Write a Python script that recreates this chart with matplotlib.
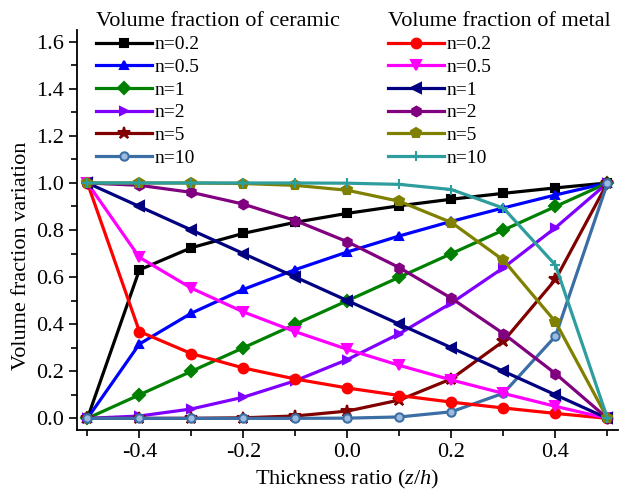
import numpy as np
import matplotlib
matplotlib.use("Agg")
import matplotlib.pyplot as plt
from matplotlib.ticker import MultipleLocator

plt.rcParams['font.family'] = ['Liberation Serif', 'DejaVu Serif']
plt.rcParams['mathtext.fontset'] = 'custom'
plt.rcParams['mathtext.it'] = 'Liberation Serif:italic'
plt.rcParams['mathtext.rm'] = 'Liberation Serif'

# thickness ratio z/h
z = [-0.5, -0.4, -0.3, -0.2, -0.1, 0.0, 0.1, 0.2, 0.3, 0.4, 0.5]
n_labels = ['n=0.2', 'n=0.5', 'n=1', 'n=2', 'n=5', 'n=10']

# volume fraction of ceramic
vc_02 = [0.0, 0.631, 0.725, 0.786, 0.833, 0.871, 0.903, 0.931, 0.956, 0.979, 1.0]
vc_05 = [0.0, 0.316, 0.447, 0.548, 0.632, 0.707, 0.775, 0.837, 0.894, 0.949, 1.0]
vc_1 = [0.0, 0.1, 0.2, 0.3, 0.4, 0.5, 0.6, 0.7, 0.8, 0.9, 1.0]
vc_2 = [0.0, 0.01, 0.04, 0.09, 0.16, 0.25, 0.36, 0.49, 0.64, 0.81, 1.0]
vc_5 = [0.0, 0.0, 0.0003, 0.0024, 0.0102, 0.031, 0.078, 0.168, 0.328, 0.590, 1.0]
vc_10 = [0.0, 0.0, 0.0, 0.0, 0.0001, 0.001, 0.006, 0.028, 0.107, 0.349, 1.0]

# volume fraction of metal
vm_02 = [1.0, 0.369, 0.275, 0.214, 0.167, 0.129, 0.097, 0.069, 0.044, 0.021, 0.0]
vm_05 = [1.0, 0.684, 0.553, 0.452, 0.368, 0.293, 0.225, 0.163, 0.106, 0.051, 0.0]
vm_1 = [1.0, 0.9, 0.8, 0.7, 0.6, 0.5, 0.4, 0.3, 0.2, 0.1, 0.0]
vm_2 = [1.0, 0.99, 0.96, 0.91, 0.84, 0.75, 0.64, 0.51, 0.36, 0.19, 0.0]
vm_5 = [1.0, 1.0, 0.9997, 0.9976, 0.9898, 0.969, 0.922, 0.832, 0.672, 0.410, 0.0]
vm_10 = [1.0, 1.0, 1.0, 1.0, 0.9999, 0.999, 0.994, 0.972, 0.893, 0.651, 0.0]

ceramic = [vc_02, vc_05, vc_1, vc_2, vc_5, vc_10]
metal = [vm_02, vm_05, vm_1, vm_2, vm_5, vm_10]

c_colors = ['#000000', '#0000FF', '#008000', '#8000FF', '#800000', '#3A6EA5']
c_markers = ['s', '^', 'D', '>', '*', 'o']
m_colors = ['#FF0000', '#FF00FF', '#000080', '#800080', '#808000', '#2E9D9D']
m_markers = ['o', 'v', '<', 'h', 'p', '+']

fig = plt.figure(figsize=(6.21, 4.99), dpi=100)
ax = fig.add_axes([0.124, 0.138, 0.871, 0.802])

c_lines = []
for y, col, mk, lab in zip(ceramic, c_colors, c_markers, n_labels):
    ms = 9 if mk == '*' else 6
    # circle markers of n=10 have a light centre
    mfc = '#9DBCDD' if mk == 'o' else col
    l, = ax.plot(z, y, color=col, marker=mk, lw=2.3, ms=ms, label=lab,
                 markeredgewidth=1.5, markerfacecolor=mfc)
    c_lines.append(l)

m_lines = []
for y, col, mk, lab in zip(metal, m_colors, m_markers, n_labels):
    l, = ax.plot(z, y, color=col, marker=mk, lw=2.3, ms=7, label=lab,
                 markeredgewidth=1.5)
    m_lines.append(l)

ax.set_xlim(-0.52, 0.52)
ax.set_ylim(-0.05, 1.65)
ax.xaxis.set_minor_locator(MultipleLocator(0.1))
ax.yaxis.set_minor_locator(MultipleLocator(0.1))
ax.set_xticks([-0.4, -0.2, 0.0, 0.2, 0.4])
ax.set_xticklabels(['-0.4', '-0.2', '0.0', '0.2', '0.4'])
ax.set_yticks([0.0, 0.2, 0.4, 0.6, 0.8, 1.0, 1.2, 1.4, 1.6])
ax.set_yticklabels(['0.0', '0.2', '0.4', '0.6', '0.8', '1.0', '1.2', '1.4', '1.6'])

ax.tick_params(which='both', direction='out', labelsize=16, width=1.2)
ax.tick_params(which='major', length=6)
ax.tick_params(which='minor', length=4)
ax.spines['top'].set_visible(False)
ax.spines['right'].set_visible(False)
ax.spines['left'].set_linewidth(1.3)
ax.spines['bottom'].set_linewidth(1.3)

ax.set_xlabel('Thickness ratio ($z$/$h$)', fontsize=16)
ax.set_ylabel('Volume fraction variation', fontsize=16)
ax.yaxis.set_label_coords(-0.085, 0.435)

leg_kw = dict(loc='upper left', frameon=False, fontsize=14, title_fontsize=16,
              handlelength=2.9, labelspacing=0.26, handletextpad=0.15,
              borderaxespad=0, alignment='left')
leg1 = ax.legend(handles=c_lines, title='Volume fraction of ceramic',
                 bbox_to_anchor=(0.02, 1.065), **leg_kw)
ax.add_artist(leg1)
leg2 = ax.legend(handles=m_lines, title='Volume fraction of metal',
                 bbox_to_anchor=(0.56, 1.065), **leg_kw)

fig.savefig('out.png', dpi=100)
